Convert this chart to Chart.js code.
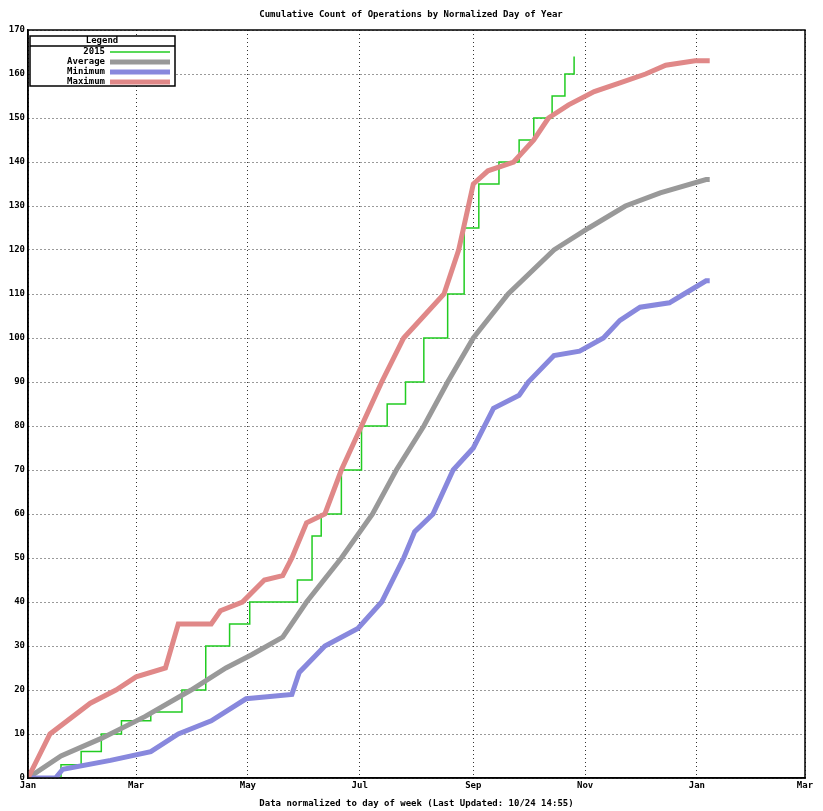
<!DOCTYPE html>
<html><head><meta charset="utf-8">
<script src="https://cdn.jsdelivr.net/npm/chart.js@4"></script>
<style>body{margin:0;background:#fff}</style></head>
<body><canvas id="c" width="823" height="811"></canvas>
<script>
const monthTicks=[0,59,120,181,243,304,365,424];
const monthLabels=["Jan","Mar","May","Jul","Sep","Nov","Jan","Mar"];
const maxDays=[0,6,12,34,48,59,75,82,100,105,117,129,139,144,152,162,171,182,193,205,216,227,235,243,251,265,276,284,295,309,323,337,348,364,372];
const maxVals=[0,5,10,17,20,23,25,35,35,38,40,45,46,50,58,60,70,80,90,100,105,110,120,135,138,140,145,150,153,156,158,160,162,163,163];
const y15Days=[0,9,18,29,40,51,67,84,97,110,121,141,147,155,160,171,182,196,206,216,229,238,246,257,268,276,286,293,298];
const y15Vals=[0,0,3,6,10,13,15,20,30,35,40,40,45,55,60,70,80,85,90,100,110,125,135,140,145,150,155,160,164];
const avgDays=[0,18,40,64,89,108,122,139,152,171,188,201,216,229,243,262,287,306,326,345,370,372];
const avgVals=[0,5,9,14,20,25,28,32,40,50,60,70,80,90,100,110,120,125,130,133,136,136];
const minDays=[0,15,19,45,67,82,100,119,144,148,162,180,193,205,211,221,232,243,254,268,273,287,301,314,323,334,350,358,370,372];
const minVals=[0,0,2,4,6,10,13,18,19,24,30,34,40,50,56,60,70,75,84,87,90,96,97,100,104,107,108,110,113,113];
const pts=(d,v)=>d.map((x,i)=>({x,y:v[i]}));
const series=[
 {label:"2015",d:pts(y15Days,y15Vals),c:"#22cc22",w:1.5,st:true},
 {label:"Average",d:pts(avgDays,avgVals),c:"#999999",w:5,st:false},
 {label:"Minimum",d:pts(minDays,minVals),c:"#8888dd",w:5,st:false},
 {label:"Maximum",d:pts(maxDays,maxVals),c:"#e08888",w:5,st:false}];
const F="'DejaVu Sans Mono', monospace";
const legendPlugin={id:'lg',afterDraw(ch){const g=ch.ctx,a=ch.chartArea;g.save();
 g.strokeStyle='#000';g.lineWidth=1.5;g.strokeRect(a.left,a.top,a.right-a.left,a.bottom-a.top);
 g.fillStyle='#fff';g.fillRect(30,36,145,50);g.strokeRect(30,36,145,50);
 g.beginPath();g.moveTo(30,46);g.lineTo(175,46);g.stroke();
 g.font="bold 9px "+F;g.fillStyle='#000';g.textAlign='center';g.textBaseline='middle';g.fillText("Legend",102,41);
 g.textAlign='right';series.forEach((s,i)=>{const y=52+i*10;g.fillStyle='#000';g.fillText(s.label,105,y);
  g.strokeStyle=s.c;g.lineWidth=s.w>2?5:1.5;g.beginPath();g.moveTo(110,y);g.lineTo(170,y);g.stroke();});
 g.textAlign='center';g.fillText("Cumulative Count of Operations by Normalized Day of Year",411,15);
 g.restore();}};
new Chart(document.getElementById('c'),{type:'line',
 data:{datasets:series.slice().reverse().map(s=>({label:s.label,data:s.d,borderColor:s.c,borderWidth:s.w,stepped:s.st,tension:0,pointRadius:0,fill:false}))},
 options:{responsive:false,animation:false,layout:{padding:{top:30,right:18}},
  plugins:{legend:{display:false},tooltip:{enabled:false}},
  scales:{
   x:{type:'linear',min:0,max:424,afterBuildTicks(a){a.ticks=monthTicks.map(v=>({value:v}));},
    afterFit(a){a.height=33;},
    ticks:{autoSkip:false,maxRotation:0,padding:2,color:'#000',font:{family:F,size:9,weight:'bold'},callback:(v)=>monthLabels[monthTicks.indexOf(v)]},
    grid:{color:'#000',lineWidth:0.8,tickLength:0},border:{color:'#000',width:1.5,dash:[1,3]},
    title:{display:true,text:"Data normalized to day of week (Last Updated: 10/24 14:55)",color:'#000',font:{family:F,size:9,weight:'bold'},padding:{top:0,bottom:2}}},
   y:{min:0,max:170,afterFit(a){a.width=28;},
    ticks:{stepSize:10,padding:3,color:'#000',font:{family:F,size:9,weight:'bold'}},
    grid:{color:'#000',lineWidth:0.8,tickLength:0},border:{color:'#000',width:1.5,dash:[1,3]}}}},
 plugins:[legendPlugin]});
</script></body></html>
